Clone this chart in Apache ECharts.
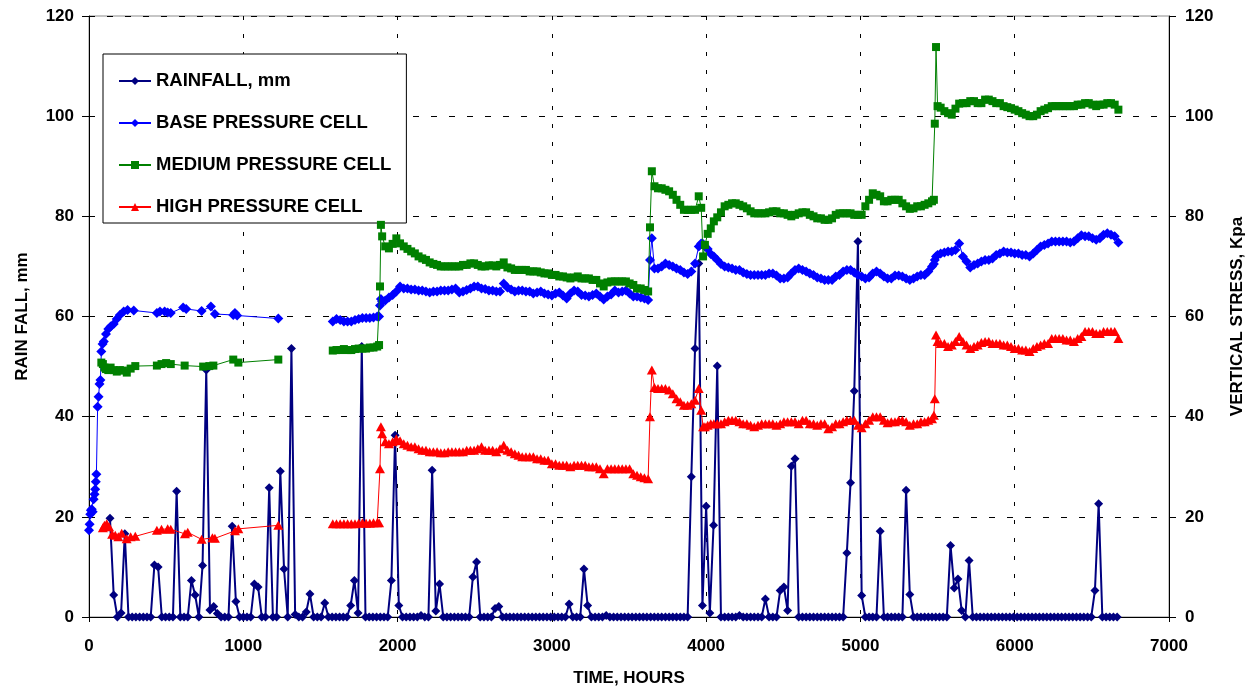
<!DOCTYPE html>
<html>
<head>
<meta charset="utf-8">
<title>Rainfall and vertical stress</title>
<script src="https://cdn.jsdelivr.net/npm/echarts@6/dist/echarts.min.js"></script>
<style>
  html, body { margin: 0; padding: 0; background: #fff; }
  #chart { width: 1248px; height: 687px; }
</style>
</head>
<body>
<div id="chart"></div>
<script>
// rainfall readings (hours, mm)
const rainHours = [
  136,160,184,208,232,256,280,304,328,352,
  376,400,424,448,472,496,520,544,568,592,
  616,640,664,688,712,736,760,784,808,832,
  856,880,904,928,952,976,1000,1024,1048,1072,
  1096,1120,1144,1168,1192,1216,1240,1264,1288,1312,
  1336,1360,1384,1408,1432,1456,1480,1504,1528,1552,
  1576,1600,1624,1648,1672,1696,1720,1744,1768,1792,
  1816,1840,1864,1888,1912,1936,1960,1984,2008,2032,
  2056,2080,2104,2128,2152,2176,2200,2224,2248,2272,
  2296,2320,2344,2368,2392,2416,2440,2464,2488,2512,
  2536,2560,2584,2608,2632,2656,2680,2704,2728,2752,
  2776,2800,2824,2848,2872,2896,2920,2944,2968,2992,
  3016,3040,3064,3088,3112,3136,3160,3184,3208,3232,
  3256,3280,3304,3328,3352,3376,3400,3424,3448,3472,
  3496,3520,3544,3568,3592,3616,3640,3664,3688,3712,
  3736,3760,3784,3808,3832,3856,3880,3904,3928,3952,
  3976,4000,4024,4048,4072,4096,4120,4144,4168,4192,
  4216,4240,4264,4288,4312,4336,4360,4384,4408,4432,
  4456,4480,4504,4528,4552,4576,4600,4624,4648,4672,
  4696,4720,4744,4768,4792,4816,4840,4864,4888,4912,
  4936,4960,4984,5008,5032,5056,5080,5104,5128,5152,
  5176,5200,5224,5248,5272,5296,5320,5344,5368,5392,
  5416,5440,5464,5488,5512,5536,5560,5584,5608,5632,
  5656,5680,5704,5728,5752,5776,5800,5824,5848,5872,
  5896,5920,5944,5968,5992,6016,6040,6064,6088,6112,
  6136,6160,6184,6208,6232,6256,6280,6304,6328,6352,
  6376,6400,6424,6448,6472,6496,6520,6544,6568,6592,
  6616,6640,6664
];
const rainfall = [
  19.7,4.4,0,0.8,16.6,0,0,0,0,0,
  0,0,10.4,10.0,0,0,0,0,25.1,0,
  0,0,7.3,4.4,0,10.3,49.3,1.4,2.1,0.7,
  0,0,0,18.1,3.1,0,0,0,0,6.6,
  6.0,0,0,25.8,0,0,29.1,9.6,0,53.6,
  0.5,0,0,1.0,4.6,0,0,0,2.8,0,
  0,0,0,0,0,2.3,7.3,0.8,54,0,
  0,0,0,0,0,0,7.3,36.3,2.3,0,
  0,0,0,0,0.3,0,0,29.3,1.2,6.6,
  0,0,0,0,0,0,0,0,8.0,11.0,
  0,0,0,0,1.7,2.1,0,0,0,0,
  0,0,0,0,0,0,0,0,0,0,
  0,0,0,0,2.6,0,0,0,9.6,2.3,
  0,0,0,0,0.3,0,0,0,0,0,
  0,0,0,0,0,0,0,0,0,0,
  0,0,0,0,0,0,0,28,53.6,70.6,
  2.3,22.1,0.8,18.3,50.1,0,0,0,0,0,
  0.3,0,0,0,0,0,0,3.6,0,0,
  0,5.3,6.0,1.3,30.1,31.6,0,0,0,0,
  0,0,0,0,0,0,0,0,0,12.8,
  26.8,45.1,75,4.3,0,0,0,0,17.1,0,
  0,0,0,0,0,25.3,4.5,0,0,0,
  0,0,0,0,0,0,0,14.3,5.8,7.6,
  1.3,0,11.3,0,0,0,0,0,0,0,
  0,0,0,0,0,0,0,0,0,0,
  0,0,0,0,0,0,0,0,0,0,
  0,0,0,0,0,0,5.3,22.6,0,0,
  0,0,0
];

// pressure cells, first run (before the gap in readings), kPa
const baseEarlyHours = [0,4,8,12,18,24,30,36,40,44,48,56,62,68,74,80,88,96,110,125,
  140,160,180,200,225,250,290,440,460,490,510,530,610,630,730,790,816,935,946,960,1227];
const baseEarly = [17.3,18.5,20.5,21.3,21.5,21.0,23.5,24.5,25.5,27.0,28.5,42.0,44.0,46.5,47.3,53.0,54.5,55.0,56.5,57.5,
  58.0,58.5,59.5,60.3,61.0,61.3,61.2,60.7,61.0,61.0,60.8,60.7,61.8,61.5,61.1,62.0,60.5,60.3,60.7,60.2,59.6];
const mediumEarlyHours = [80,90,100,110,125,140,160,180,200,220,245,270,300,440,470,500,530,620,740,780,806,935,968,1227];
const mediumEarly = [50.8,50.5,49.8,49.5,49.3,49.8,49.3,49.0,49.3,49.2,48.8,49.6,50.1,50.2,50.5,50.7,50.5,50.2,50.0,50.1,50.2,51.4,50.8,51.4];
const highEarlyHours = [90,100,115,130,150,170,190,212,244,270,300,440,470,510,530,622,640,730,800,816,946,968,1227];
const highEarly = [17.8,18.3,18.6,18.0,16.5,16.3,16.0,16.7,15.6,16.0,16.1,17.3,17.5,17.6,17.5,16.6,16.9,15.5,15.8,15.7,17.2,17.6,18.3];

// pressure cells, main run (hours shared by the three cells), kPa
const cellHours = [
  1580,1604,1628,1652,1676,1700,1724,1748,1772,1796,
  1820,1844,1868,1880,1886,1892,1900,1920,1944,1968,
  1992,2016,2040,2064,2088,2112,2136,2160,2184,2208,
  2232,2256,2280,2304,2328,2352,2376,2400,2424,2448,
  2472,2496,2520,2544,2568,2592,2616,2640,2664,2688,
  2712,2736,2760,2784,2808,2832,2856,2880,2904,2928,
  2952,2976,3000,3024,3048,3072,3096,3120,3144,3168,
  3192,3216,3240,3264,3288,3312,3336,3360,3384,3408,
  3432,3456,3480,3504,3528,3552,3576,3600,3624,3636,
  3648,3665,3688,3712,3736,3760,3784,3808,3832,3856,
  3880,3904,3928,3952,3968,3980,3992,4010,4030,4050,
  4072,4096,4120,4144,4168,4192,4216,4240,4264,4288,
  4312,4336,4360,4384,4408,4432,4456,4480,4504,4528,
  4552,4576,4600,4624,4648,4672,4696,4720,4744,4768,
  4792,4816,4840,4864,4888,4912,4936,4960,4984,5008,
  5032,5056,5080,5104,5128,5152,5176,5200,5224,5248,
  5272,5296,5320,5344,5368,5392,5416,5440,5464,5476,
  5482,5490,5500,5520,5544,5568,5592,5616,5640,5664,
  5688,5712,5736,5760,5784,5808,5832,5856,5880,5904,
  5928,5952,5976,6000,6024,6048,6072,6096,6120,6144,
  6168,6192,6216,6240,6264,6288,6312,6336,6360,6384,
  6408,6432,6456,6480,6504,6528,6552,6576,6600,6624,
  6648,6672
];
const baseCell = [
  59.0,59.5,59.3,59.0,59.0,59.0,59.3,59.5,59.7,59.7,
  59.7,59.8,60.0,60.0,62.2,63.5,63.0,63.2,63.8,64.3,
  65.0,66.0,65.6,65.6,65.4,65.4,65.2,65.2,65.0,64.8,
  65.0,65.0,65.2,65.2,65.2,65.4,65.6,64.8,65.0,65.3,
  65.6,66.0,66.0,65.6,65.5,65.2,65.2,65.0,65.0,66.6,
  65.8,65.4,65.0,65.2,65.2,65.0,65.0,64.6,64.8,65.0,
  64.6,64.4,64.2,64.6,64.8,64.2,63.6,64.6,65.2,65.0,
  64.3,64.2,64.0,64.3,64.6,64.0,63.4,64.0,64.4,65.2,
  64.8,65.0,65.2,64.6,64.0,64.0,63.8,63.6,63.3,71.3,
  75.6,69.6,69.6,70.0,70.6,70.3,70.0,69.6,69.3,68.8,
  68.5,69.0,70.6,74.0,74.6,74.5,74.0,73.5,72.5,72.0,
  71.3,70.5,70.0,69.8,69.6,69.3,69.3,68.8,68.5,68.3,
  68.3,68.3,68.3,68.3,68.6,68.6,68.2,67.6,67.6,67.8,
  68.6,69.3,69.6,69.3,69.0,68.6,68.3,67.8,67.6,67.3,
  67.3,67.3,68.0,68.3,69.0,69.3,69.3,68.8,68.3,68.0,
  67.6,67.8,68.6,69.0,68.6,68.0,67.6,67.6,68.2,68.2,
  68.0,67.6,67.3,67.6,68.0,68.3,68.3,69.0,70.0,70.5,
  71.3,72.0,72.3,72.6,72.8,73.0,73.0,73.3,74.6,72.0,
  71.0,69.8,70.3,70.6,71.0,71.3,71.3,71.6,72.3,72.6,
  73.0,72.8,72.8,72.6,72.6,72.3,72.3,72.0,72.6,73.3,
  74.0,74.3,74.6,75.0,75.0,75.0,75.0,75.0,74.8,75.0,
  75.6,76.2,76.0,76.0,75.6,75.3,75.6,76.3,76.6,76.3,
  76.0,74.8
];
const mediumCell = [
  53.2,53.3,53.3,53.5,53.3,53.3,53.5,53.6,53.6,53.6,
  53.8,53.8,54.0,54.3,66.0,78.3,76.0,74.0,73.6,74.5,
  75.6,74.6,74.0,73.5,73.0,72.6,72.0,71.6,71.3,70.8,
  70.5,70.3,70.0,70.0,70.0,70.0,70.0,70.0,70.3,70.3,
  70.6,70.6,70.3,70.0,70.0,70.2,70.2,70.0,70.3,70.8,
  69.8,69.6,69.3,69.3,69.3,69.3,69.0,69.0,69.0,68.8,
  68.6,68.6,68.3,68.3,68.0,68.0,67.8,67.6,67.8,68.0,
  67.6,67.6,67.6,67.3,67.3,66.6,66.0,66.8,67.0,67.0,
  67.0,67.0,67.0,66.6,66.3,65.6,65.6,65.3,65.0,77.8,
  89.0,86.0,85.6,85.6,85.3,85.0,84.3,83.3,82.3,81.3,
  81.3,81.3,81.3,84.0,81.7,72.0,74.3,76.5,77.6,79.0,
  79.8,80.8,82.0,82.3,82.6,82.6,82.3,82.0,81.6,81.0,
  80.6,80.6,80.6,80.6,80.8,81.0,81.0,80.6,80.6,80.3,
  80.0,80.3,80.6,80.8,80.8,80.3,80.0,79.6,79.6,79.3,
  79.3,79.6,80.3,80.6,80.6,80.6,80.6,80.3,80.3,80.3,
  82.0,83.3,84.6,84.3,84.0,83.0,83.0,83.3,83.3,83.3,
  82.6,82.0,81.5,81.6,82.0,82.0,82.3,82.6,83.0,83.3,
  98.5,113.8,102.0,101.7,101.0,100.6,100.3,101.5,102.5,102.6,
  102.6,103.0,103.0,102.6,102.6,103.3,103.3,103.0,102.6,102.6,
  102.0,101.8,101.6,101.3,101.0,100.6,100.3,100.0,100.0,100.3,
  101.0,101.3,101.6,102.0,102.0,102.0,102.0,102.0,102.0,102.0,
  102.3,102.3,102.6,102.6,102.3,102.0,102.3,102.3,102.6,102.6,
  102.3,101.3
];
const highCell = [
  18.6,18.6,18.6,18.6,18.6,18.6,18.6,18.7,18.8,18.7,
  18.7,18.8,18.8,18.8,29.6,38.0,36.6,35.0,34.6,35.0,
  35.6,35.2,34.6,34.3,34.0,34.0,33.6,33.3,33.3,33.0,
  33.0,33.0,32.8,32.8,33.0,33.0,33.0,33.0,33.0,33.3,
  33.3,33.3,33.6,34.0,33.3,33.3,33.3,33.0,33.6,34.3,
  33.3,33.0,32.6,32.3,32.0,32.0,32.0,32.0,31.6,31.6,
  31.3,31.3,30.6,30.6,30.3,30.3,30.3,30.0,30.3,30.3,
  30.3,30.3,30.0,30.0,30.0,29.6,28.6,29.6,29.6,29.6,
  29.6,29.6,29.6,29.6,28.6,28.3,28.0,27.8,27.6,40.0,
  49.3,45.8,45.6,45.6,45.6,45.3,44.6,43.6,43.0,42.3,
  42.3,42.6,43.3,45.6,41.3,38.0,38.0,38.3,38.6,38.6,
  38.6,38.6,39.0,39.3,39.3,39.3,39.0,38.6,38.6,38.3,
  38.0,38.3,38.6,38.6,38.6,38.6,38.3,38.6,39.0,39.0,
  39.0,39.0,38.6,39.3,39.3,38.6,38.6,38.3,38.6,38.6,
  37.6,38.0,38.6,38.6,39.0,39.3,39.3,39.3,38.3,37.8,
  38.6,39.3,40.0,40.0,40.0,39.3,38.8,39.0,39.0,39.3,
  39.3,39.0,38.3,38.6,38.6,39.0,39.0,39.3,39.6,40.3,
  43.6,56.3,55.0,54.6,54.6,54.0,54.3,55.0,56.0,55.0,
  54.3,53.6,54.0,54.3,54.8,55.0,55.0,54.6,54.6,54.6,
  54.3,54.3,54.0,53.6,53.6,53.3,53.3,53.0,53.6,54.0,
  54.3,54.6,54.6,55.6,55.6,55.6,55.6,55.3,55.3,55.0,
  55.6,56.0,57.0,57.0,57.0,56.6,56.6,57.0,57.0,57.0,
  57.0,55.6
];
const gapHour = 1400; // no pressure readings between the two runs

const xTicks = { min: 0, max: 7000, step: 1000 };
const yTicks = { min: 0, max: 120, step: 20 };

function zip(hours, values) {
  return hours.map((h, i) => [h, values[i]]);
}
function withGap(eh, ev, mh, mv) {
  return zip(eh, ev).concat([[gapHour, '-']], zip(mh, mv));
}

const font = 'Liberation Sans';
const labelStyle = { color: '#000', fontFamily: font, fontWeight: 'bold', fontSize: 17 };
const nameStyle = { color: '#000', fontFamily: font, fontWeight: 'bold', fontSize: 17 };
const plain = v => String(v);

const chart = echarts.init(document.getElementById('chart'));

const option = {
  animation: false,
  backgroundColor: '#fff',
  grid: {
    left: 89, right: 79, top: 16, bottom: 70,
    outerBoundsMode: 'none',
    show: true, borderColor: '#8c8c8c', borderWidth: 1
  },
  legend: {
    left: 103, top: 54,
    orient: 'vertical',
    backgroundColor: '#fff',
    borderColor: '#000',
    borderWidth: 1,
    padding: [16, 15, 5, 15],
    itemGap: 20,
    itemWidth: 32,
    itemHeight: 10,
    itemTextGap: 5,
    textStyle: { color: '#000', fontFamily: font, fontWeight: 'bold', fontSize: 18.5, lineHeight: 22 },
    data: ['RAINFALL, mm', 'BASE PRESSURE CELL', 'MEDIUM PRESSURE CELL', 'HIGH PRESSURE CELL']
  },
  xAxis: {
    type: 'value',
    min: xTicks.min, max: xTicks.max, interval: xTicks.step,
    name: 'TIME, HOURS',
    nameLocation: 'middle',
    nameGap: 53,
    nameTextStyle: nameStyle,
    axisLine: { lineStyle: { color: '#000', width: 1 } },
    axisTick: { show: true, length: 5, lineStyle: { color: '#000' } },
    axisLabel: Object.assign({ margin: 21, formatter: plain }, labelStyle),
    splitLine: { show: true, lineStyle: { color: '#000', width: 1, type: [4, 14] } }
  },
  yAxis: [
    {
      type: 'value',
      position: 'left',
      min: yTicks.min, max: yTicks.max, interval: yTicks.step,
      name: 'RAIN FALL, mm',
      nameLocation: 'middle',
      nameRotate: 90,
      nameGap: 58,
      nameTextStyle: nameStyle,
      axisLine: { show: true, lineStyle: { color: '#000', width: 1 } },
      axisTick: { show: true, length: 7, lineStyle: { color: '#000' } },
      axisLabel: Object.assign({ margin: 15, formatter: plain, padding: [4, 0, 0, 0] }, labelStyle),
      splitLine: { show: true, lineStyle: { color: '#000', width: 1, type: [6, 12] } }
    },
    {
      type: 'value',
      position: 'right',
      min: yTicks.min, max: yTicks.max, interval: yTicks.step,
      name: 'VERTICAL STRESS, Kpa',
      nameLocation: 'middle',
      nameRotate: 90,
      nameGap: 60,
      nameTextStyle: nameStyle,
      axisLine: { show: true, lineStyle: { color: '#000', width: 1 } },
      axisTick: { show: true, length: 7, lineStyle: { color: '#000' } },
      axisLabel: Object.assign({ margin: 16, formatter: plain, padding: [4, 0, 0, 0] }, labelStyle),
      splitLine: { show: false }
    }
  ],
  series: [
    {
      name: 'RAINFALL, mm',
      type: 'line',
      yAxisIndex: 0,
      data: zip(rainHours, rainfall),
      symbol: 'diamond',
      symbolSize: 9,
      clip: false,
      lineStyle: { color: '#000080', width: 2 },
      itemStyle: { color: '#000080' },
      z: 2
    },
    {
      name: 'BASE PRESSURE CELL',
      type: 'line',
      yAxisIndex: 1,
      data: withGap(baseEarlyHours, baseEarly, cellHours, baseCell),
      symbol: 'diamond',
      symbolSize: 10,
      clip: false,
      connectNulls: false,
      lineStyle: { color: '#0000ff', width: 1 },
      itemStyle: { color: '#0000ff' },
      z: 3
    },
    {
      name: 'MEDIUM PRESSURE CELL',
      type: 'line',
      yAxisIndex: 1,
      data: withGap(mediumEarlyHours, mediumEarly, cellHours, mediumCell),
      symbol: 'rect',
      symbolSize: 8,
      clip: false,
      connectNulls: false,
      lineStyle: { color: '#008000', width: 1 },
      itemStyle: { color: '#008000' },
      z: 4
    },
    {
      name: 'HIGH PRESSURE CELL',
      type: 'line',
      yAxisIndex: 1,
      data: withGap(highEarlyHours, highEarly, cellHours, highCell),
      symbol: 'triangle',
      symbolSize: [10, 9],
      clip: false,
      connectNulls: false,
      lineStyle: { color: '#ff0000', width: 1 },
      itemStyle: { color: '#ff0000' },
      z: 5
    }
  ]
};

chart.setOption(option);
</script>
</body>
</html>
